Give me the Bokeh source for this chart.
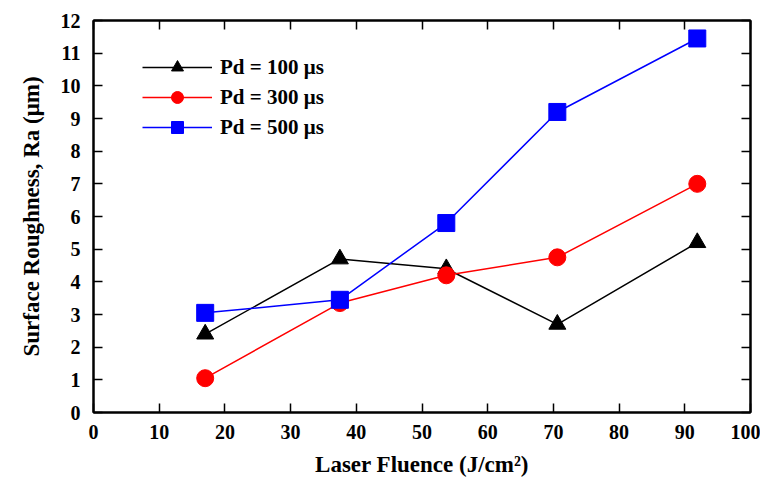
from bokeh.plotting import figure
from bokeh.models import LinearAxis, FixedTicker, Range1d, Legend, LegendItem
from bokeh.embed import file_html
from bokeh.resources import INLINE

fluence = [17.0, 37.5, 53.7, 70.6, 91.9]
ra_100 = [2.4, 4.7, 4.4, 2.7, 5.2]
ra_300 = [1.05, 3.35, 4.2, 4.75, 7.0]
ra_500 = [3.05, 3.45, 5.8, 9.2, 11.45]
x_ticks = list(range(0, 101, 10))
y_ticks = list(range(0, 13))

FONT = "'Liberation Serif', 'Times New Roman', serif"

p = figure(width=760, height=482, output_backend="svg", toolbar_location=None,
           x_range=Range1d(0, 100), y_range=Range1d(0, 12),
           min_border_left=93, min_border_right=10, min_border_top=20, min_border_bottom=70)
p.xgrid.visible = False
p.ygrid.visible = False
p.outline_line_color = "black"
p.outline_line_width = 2
p.background_fill_color = "white"
p.border_fill_color = "white"

xa = p.xaxis[0]
ya = p.yaxis[0]
xa.ticker = FixedTicker(ticks=x_ticks)
ya.ticker = FixedTicker(ticks=y_ticks)
for ax in (xa, ya):
    ax.major_tick_in = 9
    ax.major_tick_out = 0
    ax.minor_tick_in = 0
    ax.minor_tick_out = 0
    ax.axis_line_width = 2
    ax.axis_line_color = "black"
    ax.major_tick_line_width = 1.5
    ax.major_tick_line_color = "black"
    ax.major_label_text_font = FONT
    ax.major_label_text_font_style = "bold"
    ax.major_label_text_font_size = "20px"
    ax.major_label_text_color = "black"
    ax.axis_label_text_font = FONT
    ax.axis_label_text_font_style = "bold"
    ax.axis_label_text_font_size = "23px"
    ax.axis_label_text_color = "black"
xa.major_label_standoff = 12
ya.major_label_standoff = 13
xa.axis_label = "Laser Fluence (J/cm²)"
ya.axis_label = "Surface Roughness, Ra (μm)"
xa.axis_label_standoff = 10
ya.axis_label_standoff = 14

ra = LinearAxis(ticker=FixedTicker(ticks=y_ticks), major_tick_in=9, major_tick_out=0,
                minor_tick_in=0, minor_tick_out=0, axis_line_width=2, major_tick_line_width=1.5,
                major_label_text_font_size="0px", major_label_text_alpha=0)
ta = LinearAxis(ticker=FixedTicker(ticks=x_ticks), major_tick_in=9, major_tick_out=0,
                minor_tick_in=0, minor_tick_out=0, axis_line_width=2, major_tick_line_width=1.5,
                major_label_text_font_size="0px", major_label_text_alpha=0)
p.add_layout(ra, "right")
p.add_layout(ta, "above")

l1 = p.line(fluence, ra_100, line_color="black", line_width=1.5)
s1 = p.scatter(fluence, ra_100, marker="triangle", size=17, fill_color="black", line_color="black")
l2 = p.line(fluence, ra_300, line_color="red", line_width=1.5)
s2 = p.scatter(fluence, ra_300, marker="circle", size=17, fill_color="red", line_color="red")
l3 = p.line(fluence, ra_500, line_color="blue", line_width=1.5)
s3 = p.scatter(fluence, ra_500, marker="square", size=17, fill_color="blue", line_color="blue")

legend = Legend(items=[
    LegendItem(label="Pd = 100 μs", renderers=[l1, s1]),
    LegendItem(label="Pd = 300 μs", renderers=[l2, s2]),
    LegendItem(label="Pd = 500 μs", renderers=[l3, s3]),
], location=(49, 270))
legend.border_line_color = None
legend.background_fill_alpha = 0
legend.label_text_font = FONT
legend.label_text_font_style = "bold"
legend.label_text_font_size = "21px"
legend.label_text_color = "black"
legend.glyph_width = 70
legend.glyph_height = 30
legend.label_height = 30
legend.spacing = 0
legend.margin = 0
legend.padding = 5
legend.label_standoff = 8
p.add_layout(legend)

open("out.html", "w").write(file_html(p, INLINE))
